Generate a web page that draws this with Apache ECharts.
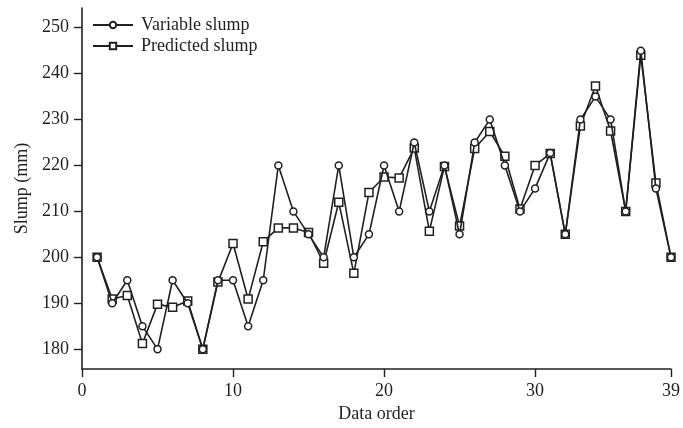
<!DOCTYPE html>
<html>
<head>
<meta charset="utf-8">
<script src="https://cdn.jsdelivr.net/npm/echarts@6/dist/echarts.min.js"></script>
<style>
html,body{margin:0;padding:0;background:#fff;}
#chart{width:683px;height:428px;}
</style>
</head>
<body>
<div id="chart"></div>
<script>
var dataOrder = [1,2,3,4,5,6,7,8,9,10,11,12,13,14,15,16,17,18,19,20,21,22,23,24,25,26,27,28,29,30,31,32,33,34,35,36,37,38,39];
var variableSlump = [200,190,195,185,180,195,190,180,195,195,185,195,220,210,205,200,220,200,205,220,210,225,210,220,205,225,230,220,210,215,222.7,205,230,235,230,210,245,215,200];
var predictedSlump = [200,190.9,191.7,181.2,189.8,189.1,190.5,180,194.6,203,190.9,203.4,206.4,206.4,205.4,198.7,212,196.5,214.1,217.5,217.3,223.8,205.7,219.8,206.8,223.7,227.4,222,210.5,220,222.6,205,228.6,237.3,227.5,210,244,216.2,200];
var xTicks = [0,10,20,30,39];
var yTicks = [180,190,200,210,220,230,240,250];
var seriesNames = ['Variable slump','Predicted slump'];

var ink = '#231f20';
var font = '"Liberation Serif","Times New Roman",serif';

function pairs(ys){ return dataOrder.map(function(x,i){ return [x, ys[i]]; }); }

var chart = echarts.init(document.getElementById('chart'), null, {renderer:'canvas'});
chart.setOption({
  animation:false,
  backgroundColor:'#fff',
  grid:{left:82,right:9,top:8,bottom:58,containLabel:false},
  legend:{
    orient:'vertical',left:92,top:16,padding:0,itemWidth:40,itemHeight:8,itemGap:3,
    textStyle:{fontFamily:font,fontSize:18,color:ink,padding:[0,0,0,3]},
    data:seriesNames
  },
  xAxis:{
    type:'value',min:0,max:39,
    name:'Data order',nameLocation:'middle',nameGap:35,
    nameTextStyle:{fontFamily:font,fontSize:18,color:ink},
    axisLine:{lineStyle:{color:ink,width:1.6}},
    axisTick:{show:true,length:8,inside:false,customValues:xTicks,lineStyle:{color:ink,width:1.4}},
    axisLabel:{customValues:xTicks,fontFamily:font,fontSize:18,color:ink,margin:13},
    splitLine:{show:false}
  },
  yAxis:{
    type:'value',min:175.65,max:254.3,
    name:'Slump (mm)',nameLocation:'middle',nameGap:51,
    nameTextStyle:{fontFamily:font,fontSize:18,color:ink},
    axisLine:{show:true,lineStyle:{color:ink,width:1.6}},
    axisTick:{show:true,length:8,inside:false,customValues:yTicks,lineStyle:{color:ink,width:1.4}},
    axisLabel:{customValues:yTicks,fontFamily:font,fontSize:18,color:ink,margin:13},
    splitLine:{show:false}
  },
  series:[
    {name:seriesNames[0],type:'line',data:pairs(variableSlump),symbol:'circle',symbolSize:7,showAllSymbol:true,
     lineStyle:{color:ink,width:1.6},itemStyle:{color:'#fff',borderColor:ink,borderWidth:1.5},z:3},
    {name:seriesNames[1],type:'line',data:pairs(predictedSlump),symbol:'rect',symbolSize:8,showAllSymbol:true,
     lineStyle:{color:ink,width:1.6},itemStyle:{color:'#fff',borderColor:ink,borderWidth:1.5},z:2}
  ]
});
</script>
</body>
</html>
